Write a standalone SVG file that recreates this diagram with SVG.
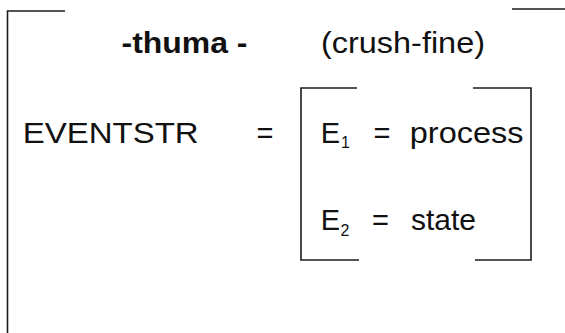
<svg xmlns="http://www.w3.org/2000/svg" width="565" height="333" viewBox="0 0 565 333">
<style>
.ln{stroke:#1c1c1c;stroke-width:1.6;fill:none}
.t{font-family:"Liberation Sans",Arial,sans-serif;font-size:29px;fill:#111}
.b{font-weight:bold}
.s{font-family:"Liberation Sans",Arial,sans-serif;font-size:16px;fill:#111}
</style>
<rect width="565" height="333" fill="#ffffff"/>
<g id="outer-bracket">
<path class="ln" d="M65,11 H7.5 V333"/>
<path class="ln" d="M512,9 H565"/>
</g>
<g id="title">
<text class="t b" x="121.5" y="53" textLength="126" lengthAdjust="spacingAndGlyphs">-thuma -</text>
<text class="t" x="321" y="53" textLength="164" lengthAdjust="spacingAndGlyphs">(crush-fine)</text>
</g>
<g id="eventstr">
<text class="t" x="22.7" y="143" textLength="176" lengthAdjust="spacingAndGlyphs">EVENTSTR</text>
<text class="t" x="256.5" y="143">=</text>
</g>
<g id="inner-box">
<path class="ln" d="M357,88 H301 V260 H359"/>
<path class="ln" d="M473,88 H531 V260 H475"/>
</g>
<g id="e1">
<text class="t" x="320.7" y="143">E</text>
<text class="s" x="341" y="148">1</text>
<text class="t" x="373.5" y="143">=</text>
<text class="t" x="409.8" y="143" textLength="113.7" lengthAdjust="spacingAndGlyphs">process</text>
</g>
<g id="e2">
<text class="t" x="320.7" y="230">E</text>
<text class="s" x="340.5" y="236">2</text>
<text class="t" x="372" y="230">=</text>
<text class="t" x="411" y="230" textLength="65" lengthAdjust="spacingAndGlyphs">state</text>
</g>
</svg>
